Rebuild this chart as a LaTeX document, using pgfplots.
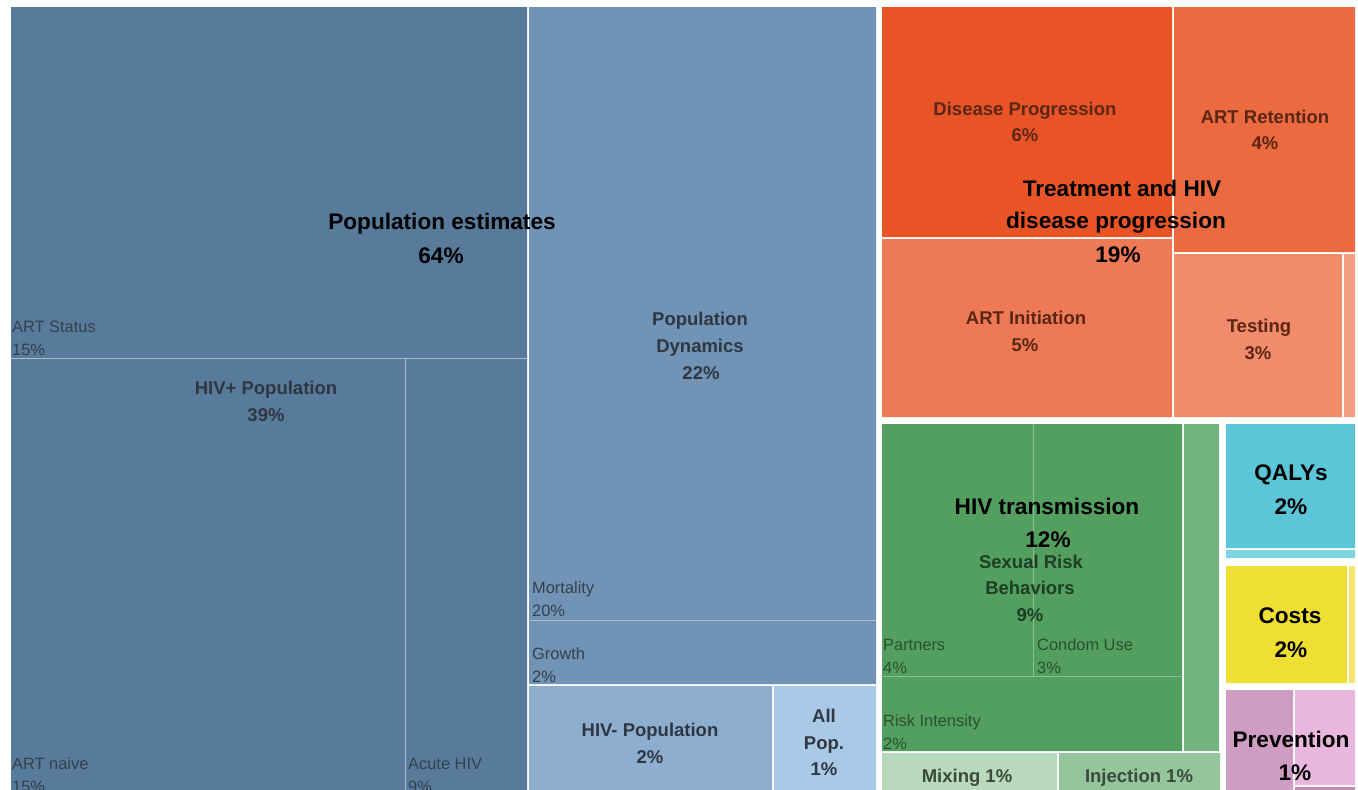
\documentclass[border=0pt]{standalone}
\usepackage{pgfplots}
\pgfplotsset{compat=1.18}
\usepackage{fontspec}
\setmainfont{Liberation Sans}
\definecolor{hivp}{HTML}{587B9C}
\definecolor{popdyn}{HTML}{7193B5}
\definecolor{hivn}{HTML}{8EAED0}
\definecolor{allpop}{HTML}{AAC9E7}
\definecolor{bluesep}{HTML}{A9BCCD}
\definecolor{dispro}{HTML}{E95426}
\definecolor{artret}{HTML}{EC6A3F}
\definecolor{artini}{HTML}{EE7A55}
\definecolor{testing}{HTML}{F08B6C}
\definecolor{orsliv}{HTML}{F29F84}
\definecolor{sexrisk}{HTML}{529F5F}
\definecolor{greensep}{HTML}{8DBE95}
\definecolor{grsliv}{HTML}{72B37F}
\definecolor{mixing}{HTML}{B8D9BC}
\definecolor{inject}{HTML}{94C59B}
\definecolor{qaly}{HTML}{5AC6D8}
\definecolor{qalysl}{HTML}{7ED4E1}
\definecolor{costs}{HTML}{F0DF33}
\definecolor{costsl}{HTML}{F4E56F}
\definecolor{prevd}{HTML}{CF9CC4}
\definecolor{prevl}{HTML}{E9B6DE}
\definecolor{prevm}{HTML}{B98DB1}
\definecolor{bluetxt}{HTML}{2E3742}
\definecolor{blueleaf}{HTML}{34404C}
\definecolor{oratxt}{HTML}{5C2614}
\definecolor{grtxt}{HTML}{1F3F25}
\definecolor{grleaf}{HTML}{2B4F31}
\definecolor{mixtxt}{HTML}{3A4A3C}
\tikzset{
  big/.style={font=\fontsize{22.6}{26}\selectfont\bfseries, text=black, anchor=base, inner sep=0pt},
  sub/.style={font=\fontsize{18.5}{22}\selectfont\bfseries, anchor=base, inner sep=0pt},
  leaf/.style={font=\fontsize{16.4}{19}\selectfont, anchor=base west, inner sep=0pt},
}
\begin{document}
\begin{tikzpicture}
\begin{axis}[
  width=1358pt, height=790pt, scale only axis,
  xmin=0, xmax=1358, ymin=0, ymax=790, y dir=reverse,
  hide axis, clip mode=global,
]
% background
\addplot[fill=white, draw=none] coordinates {(0,0) (1358,0) (1358,790) (0,790) (0,0)};
% Population estimates
\addplot[fill=hivp, draw=none] coordinates {(11,7) (527,7) (527,790) (11,790) (11,7)};
\addplot[fill=popdyn, draw=none] coordinates {(529,7) (876,7) (876,684) (529,684) (529,7)};
\addplot[fill=hivn, draw=none] coordinates {(529,686) (772,686) (772,790) (529,790) (529,686)};
\addplot[fill=allpop, draw=none] coordinates {(774,686) (876,686) (876,790) (774,790) (774,686)};
\addplot[draw=bluesep, line width=1pt] coordinates {(11,358) (527,358)};
\addplot[draw=bluesep, line width=1pt] coordinates {(405,358) (405,790)};
\addplot[draw=bluesep, line width=1pt] coordinates {(529,620) (876,620)};
% Treatment
\addplot[fill=dispro, draw=none] coordinates {(882,7) (1172,7) (1172,237) (882,237) (882,7)};
\addplot[fill=artini, draw=none] coordinates {(882,239) (1172,239) (1172,417) (882,417) (882,239)};
\addplot[fill=artret, draw=none] coordinates {(1174,7) (1355,7) (1355,252) (1174,252) (1174,7)};
\addplot[fill=testing, draw=none] coordinates {(1174,254) (1342,254) (1342,417) (1174,417) (1174,254)};
\addplot[fill=orsliv, draw=none] coordinates {(1344,254) (1355,254) (1355,417) (1344,417) (1344,254)};
% HIV transmission
\addplot[fill=sexrisk, draw=none] coordinates {(882,424) (1182,424) (1182,751) (882,751) (882,424)};
\addplot[fill=grsliv, draw=none] coordinates {(1184,424) (1219,424) (1219,751) (1184,751) (1184,424)};
\addplot[fill=mixing, draw=none] coordinates {(882,753) (1057,753) (1057,790) (882,790) (882,753)};
\addplot[fill=inject, draw=none] coordinates {(1059,753) (1220,753) (1220,790) (1059,790) (1059,753)};
\addplot[draw=greensep, line width=1pt] coordinates {(1033,424) (1033,676)};
\addplot[draw=greensep, line width=1pt] coordinates {(882,676) (1182,676)};
% QALYs
\addplot[fill=qaly, draw=none] coordinates {(1226,424) (1355,424) (1355,548) (1226,548) (1226,424)};
\addplot[fill=qalysl, draw=none] coordinates {(1226,550) (1355,550) (1355,558) (1226,558) (1226,550)};
% Costs
\addplot[fill=costs, draw=none] coordinates {(1226,566) (1347,566) (1347,683) (1226,683) (1226,566)};
\addplot[fill=costsl, draw=none] coordinates {(1349,566) (1355,566) (1355,683) (1349,683) (1349,566)};
% Prevention
\addplot[fill=prevd, draw=none] coordinates {(1226,690) (1293,690) (1293,790) (1226,790) (1226,690)};
\addplot[fill=prevl, draw=none] coordinates {(1295,690) (1355,690) (1355,785) (1295,785) (1295,690)};
\addplot[fill=prevm, draw=none] coordinates {(1295,787) (1355,787) (1355,790) (1295,790) (1295,787)};

% leaf labels
\node[leaf, text=blueleaf] at (axis cs:12,332) {ART Status};
\node[leaf, text=blueleaf] at (axis cs:12,355) {15\%};
\node[leaf, text=blueleaf] at (axis cs:12,769) {ART naive};
\node[leaf, text=blueleaf] at (axis cs:12,792) {15\%};
\node[leaf, text=blueleaf] at (axis cs:408,769) {Acute HIV};
\node[leaf, text=blueleaf] at (axis cs:408,792) {9\%};
\node[leaf, text=blueleaf] at (axis cs:532,593) {Mortality};
\node[leaf, text=blueleaf] at (axis cs:532,616) {20\%};
\node[leaf, text=blueleaf] at (axis cs:532,659) {Growth};
\node[leaf, text=blueleaf] at (axis cs:532,682) {2\%};
\node[leaf, text=grleaf] at (axis cs:883,650) {Partners};
\node[leaf, text=grleaf] at (axis cs:883,673) {4\%};
\node[leaf, text=grleaf] at (axis cs:1037,650) {Condom Use};
\node[leaf, text=grleaf] at (axis cs:1037,673) {3\%};
\node[leaf, text=grleaf] at (axis cs:883,726) {Risk Intensity};
\node[leaf, text=grleaf] at (axis cs:883,749) {2\%};

% sub labels
\node[sub, text=bluetxt] at (axis cs:266,394) {HIV+ Population};
\node[sub, text=bluetxt] at (axis cs:266,421) {39\%};
\node[sub, text=bluetxt] at (axis cs:700,325) {Population};
\node[sub, text=bluetxt] at (axis cs:700,352) {Dynamics};
\node[sub, text=bluetxt] at (axis cs:701,379) {22\%};
\node[sub, text=bluetxt] at (axis cs:650,736) {HIV- Population};
\node[sub, text=bluetxt] at (axis cs:650,763) {2\%};
\node[sub, text=bluetxt] at (axis cs:824,722) {All};
\node[sub, text=bluetxt] at (axis cs:824,749) {Pop.};
\node[sub, text=bluetxt] at (axis cs:824,775) {1\%};
\node[sub, text=oratxt] at (axis cs:1025,115) {Disease Progression};
\node[sub, text=oratxt] at (axis cs:1025,141) {6\%};
\node[sub, text=oratxt] at (axis cs:1265,123) {ART Retention};
\node[sub, text=oratxt] at (axis cs:1265,149) {4\%};
\node[sub, text=oratxt] at (axis cs:1026,324) {ART Initiation};
\node[sub, text=oratxt] at (axis cs:1025,351) {5\%};
\node[sub, text=oratxt] at (axis cs:1259,332) {Testing};
\node[sub, text=oratxt] at (axis cs:1258,359) {3\%};
\node[sub, text=grtxt] at (axis cs:1031,568) {Sexual Risk};
\node[sub, text=grtxt] at (axis cs:1030,594) {Behaviors};
\node[sub, text=grtxt] at (axis cs:1030,621) {9\%};
\node[sub, text=mixtxt] at (axis cs:967,782) {Mixing 1\%};
\node[sub, text=mixtxt] at (axis cs:1139,782) {Injection 1\%};

% top-level labels
\node[big] at (axis cs:442,229) {Population estimates};
\node[big] at (axis cs:441,263) {64\%};
\node[big] at (axis cs:1122,196) {Treatment and HIV};
\node[big] at (axis cs:1116,228) {disease progression};
\node[big] at (axis cs:1118,262) {19\%};
\node[big] at (axis cs:1047,514) {HIV transmission};
\node[big] at (axis cs:1048,547) {12\%};
\node[big] at (axis cs:1291,480) {QALYs};
\node[big] at (axis cs:1291,514) {2\%};
\node[big] at (axis cs:1290,623) {Costs};
\node[big] at (axis cs:1291,657) {2\%};
\node[big] at (axis cs:1291,747) {Prevention};
\node[big] at (axis cs:1295,780) {1\%};
\end{axis}
\end{tikzpicture}
\end{document}
